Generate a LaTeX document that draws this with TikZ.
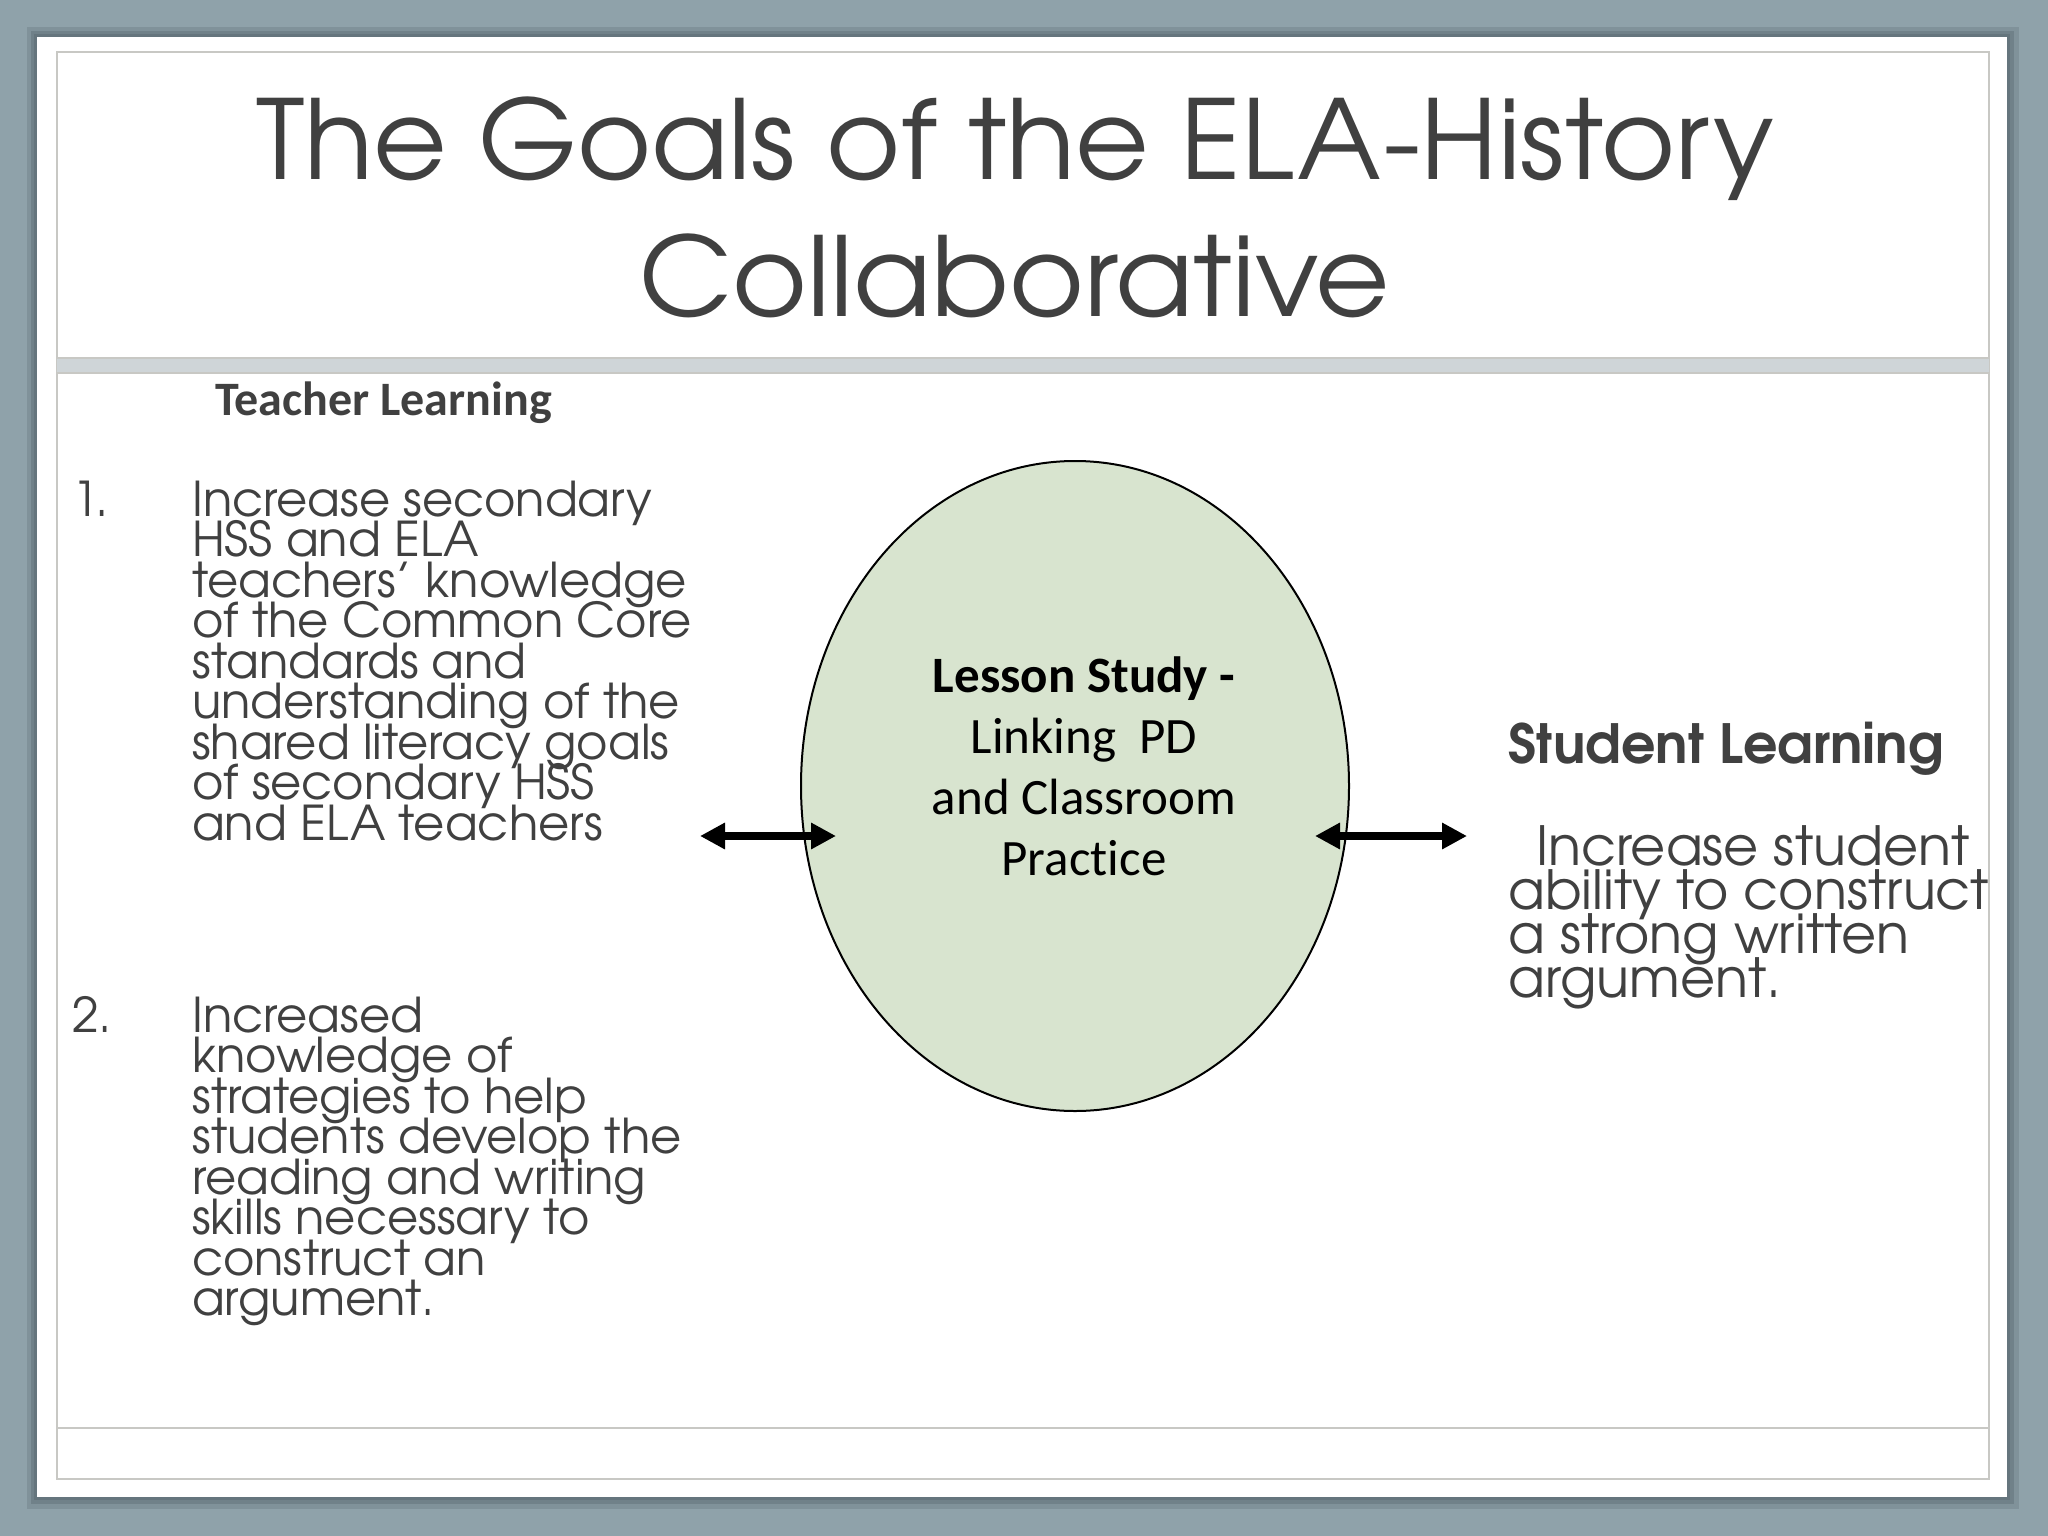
\documentclass[tikz,border=0pt]{standalone}
\usepackage{fontspec}
\usetikzlibrary{arrows.meta,shapes.geometric}
\newfontfamily\gothic{TeX Gyre Adventor}
\newfontfamily\calib[Ligatures={NoCommon}]{Carlito}
\definecolor{bgblue}{HTML}{8FA2AA}
\definecolor{shadowc}{HTML}{5E6E76}
\definecolor{framec}{HTML}{C8C8C4}
\definecolor{bandc}{HTML}{CFD5D8}
\definecolor{textgray}{HTML}{404040}
\definecolor{ovalc}{HTML}{D8E4CF}
\tikzset{
  titletxt/.style={font=\gothic\fontsize{110}{110}\selectfont, text=textgray, anchor=base, inner sep=0pt},
  bodytxt/.style={font=\gothic\fontsize{48}{48}\selectfont, text=textgray, anchor=base west, inner sep=0pt},
  stutxt/.style={font=\gothic\fontsize{54}{54}\selectfont, text=textgray, anchor=base west, inner sep=0pt},
  headA/.style={font=\calib\bfseries\fontsize{48}{48}\selectfont, text=textgray, anchor=base west, inner sep=0pt},
  headB/.style={font=\gothic\bfseries\fontsize{54}{54}\selectfont, text=textgray, anchor=base west, inner sep=0pt},
  ovaltxt/.style={font=\calib\fontsize{51}{51}\selectfont, text=black, anchor=base, inner sep=0pt},
  dblarrow/.style={{Triangle[length=25pt,width=25pt]}-{Triangle[length=25pt,width=25pt]}, line width=8pt},
}
\begin{document}
\begin{tikzpicture}[x=1pt,y=-1pt]
\useasboundingbox (0,0) rectangle (2048,1536);
\fill[bgblue] (0,0) rectangle (2048,1536);
% slide shadow and slide
\fill[shadowc, opacity=0.3] (27,27) rectangle (2019,1509);
\fill[shadowc, opacity=0.45] (31,31) rectangle (2014,1504);
\fill[shadowc, opacity=0.6] (34,34) rectangle (2010,1500);
\fill[white] (37,37) rectangle (2007,1497);
\draw[framec, line width=2pt] (57,52) rectangle (1989,1479);
\fill[bandc] (57,358) rectangle (1989,373);
\draw[framec, line width=1.5pt] (57,358) -- (1989,358) (57,373) -- (1989,373);
\draw[framec, line width=2pt] (57,1428) -- (1989,1428);
% title
\node[titletxt] (t1) at (1015,179) {\scalebox{1.03}[1]{The Goals of the ELA-History}};
\node[titletxt] (t2) at (1015,316) {\scalebox{1.04}[1]{Collaborative}};
% teacher learning
\node[headA] (th) at (215,415) {Teacher Learning};
\node[bodytxt] (n1) at (72,516) {1.};
\foreach [count=\i from 0] \s in {Increase secondary, HSS and ELA, teachers’ knowledge, of the Common Core, standards and, understanding of the, shared literacy goals, of secondary HSS, and ELA teachers}
  \node[bodytxt] (a\i) at (192,{516+40.5*\i}) {\s};
\node[bodytxt] (n2) at (72,1032) {2.};
\foreach [count=\i from 0] \s in {Increased, knowledge of, strategies to help, students develop the, reading and writing, skills necessary to, construct an, argument.}
  \node[bodytxt] (b\i) at (192,{1032+40.5*\i}) {\s};
% oval
\node[ellipse, draw=black, line width=2pt, fill=ovalc, minimum width=548pt, minimum height=650pt, inner sep=0pt] (ov) at (1075,786) {};
\node[ovaltxt, font=\calib\bfseries\fontsize{51}{51}\selectfont] (o1) at (1084,692) {Lesson Study -};
\node[ovaltxt] (o2) at (1084,753) {Linking\ \ PD};
\node[ovaltxt] (o3) at (1084,814) {and Classroom};
\node[ovaltxt] (o4) at (1084,875) {Practice};
% arrows
\coordinate (la) at (700,836);
\coordinate (lb) at (836,836);
\coordinate (ra) at (1315,836);
\coordinate (rb) at (1467,836);
\draw[dblarrow] (la) -- (lb);
\draw[dblarrow] (ra) -- (rb);
% student learning
\node[headB] (sh) at (1508,763) {Student Learning};
\node[stutxt] (s0) at (1536,865) {Increase student};
\node[stutxt] (s1) at (1508,909) {ability to construct};
\node[stutxt] (s2) at (1508,953) {a strong written};
\node[stutxt] (s3) at (1508,997) {argument.};
\end{tikzpicture}
\end{document}
